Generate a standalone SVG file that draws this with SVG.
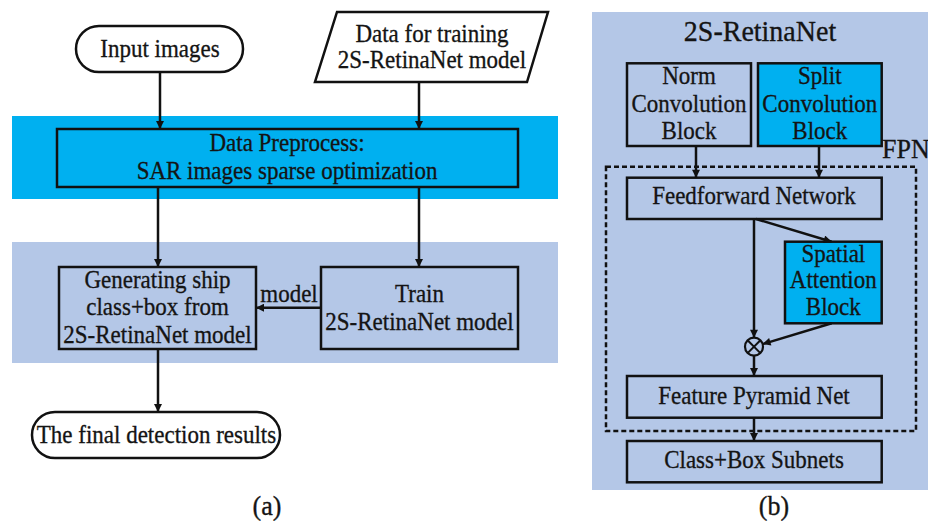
<svg xmlns="http://www.w3.org/2000/svg" width="928" height="524" viewBox="0 0 928 524">
<style>
  text { font-family: "Liberation Serif", "Times New Roman", Tinos, serif; font-size: 23px; fill: #141414; stroke: #141414; stroke-width: 0.3; text-anchor: middle; }
  .box { stroke: #111; stroke-width: 2.5; }
  .white { fill: #fff; }
  .cyan { fill: #00B0F0; }
  .light { fill: #B4C7E7; }
  .conn { stroke: #111; stroke-width: 2.5; fill: none; }
  .band-cyan { fill: #00B0F0; }
  .band-light { fill: #B4C7E7; }
</style>
<defs>
  <marker id="arrow" viewBox="0 0 10 10" refX="10" refY="5" markerWidth="9" markerHeight="8" markerUnits="userSpaceOnUse" orient="auto">
    <path d="M0,0 L10,5 L0,10 z" fill="#111"/>
  </marker>
</defs>

<!-- background bands -->
<rect class="band-cyan" x="12" y="116" width="546" height="83"/>
<rect class="band-light" x="12" y="242" width="546" height="121"/>
<rect class="band-light" x="592" y="12" width="336" height="478"/>

<!-- Panel (a) nodes -->
<g id="input-images">
  <rect class="box white" x="76" y="26" width="167" height="46" rx="23" ry="23"/>
  <text transform="translate(160,56.5) scale(1,1.09)">Input images</text>
</g>
<g id="training-data">
  <polygon class="box white" points="337,12 548,12 527,82 315,82"/>
  <text transform="translate(432,41.5) scale(1,1.09)">Data for training</text>
  <text transform="translate(432,68) scale(1,1.09)">2S-RetinaNet model</text>
</g>
<g id="preprocess">
  <rect class="box cyan" x="57" y="129" width="461" height="58"/>
  <text transform="translate(287,150.5) scale(1,1.09)">Data Preprocess:</text>
  <text transform="translate(287,179) scale(1,1.09)">SAR images sparse optimization</text>
</g>
<g id="generating">
  <rect class="box light" x="59" y="267" width="197" height="82"/>
  <text transform="translate(157.5,288.3) scale(1,1.09)">Generating ship</text>
  <text transform="translate(157.5,315) scale(1,1.09)">class+box from</text>
  <text transform="translate(157.5,342.5) scale(1,1.09)">2S-RetinaNet model</text>
</g>
<g id="train">
  <rect class="box light" x="321" y="267" width="197" height="82"/>
  <text transform="translate(419.5,301.7) scale(1,1.09)">Train</text>
  <text transform="translate(419.5,330) scale(1,1.09)">2S-RetinaNet model</text>
</g>
<g id="final-results">
  <rect class="box white" x="32" y="412" width="248" height="46" rx="23" ry="23"/>
  <text transform="translate(156.5,442.7) scale(1,1.09)">The final detection results</text>
</g>
<text transform="translate(267,515) scale(1,1.09)" style="font-size:26px">(a)</text>

<!-- Panel (b) nodes -->
<text transform="translate(760,40.7) scale(1,1.05)" style="font-size:28px">2S-RetinaNet</text>
<text transform="translate(882,158) scale(1,1.05)" style="font-size:26px;text-anchor:start">FPN</text>
<g id="fpn-region">
  <rect x="606" y="166.7" width="310" height="264.3" fill="none" stroke="#111" stroke-width="2.5" stroke-dasharray="5,3"/>
</g>
<g id="norm-conv">
  <rect class="box light" x="627" y="63.3" width="124" height="82.7"/>
  <text transform="translate(689,84) scale(1,1.09)">Norm</text>
  <text transform="translate(689,111.7) scale(1,1.09)">Convolution</text>
  <text transform="translate(689,139.3) scale(1,1.09)">Block</text>
</g>
<g id="split-conv">
  <rect class="box cyan" x="758" y="63.3" width="123.7" height="82.7"/>
  <text transform="translate(819.8,84) scale(1,1.09)">Split</text>
  <text transform="translate(819.8,111.7) scale(1,1.09)">Convolution</text>
  <text transform="translate(819.8,139.3) scale(1,1.09)">Block</text>
</g>
<g id="feedforward">
  <rect class="box light" x="627" y="177.7" width="254.7" height="41.3"/>
  <text transform="translate(754,204) scale(1,1.09)">Feedforward Network</text>
</g>
<g id="spatial-attention">
  <rect class="box cyan" x="785" y="241.7" width="96.7" height="81.6"/>
  <text transform="translate(833.3,261.7) scale(1,1.09)">Spatial</text>
  <text transform="translate(833.3,288.3) scale(1,1.09)">Attention</text>
  <text transform="translate(833.3,315) scale(1,1.09)">Block</text>
</g>
<g id="multiply">
  <circle cx="754" cy="346.7" r="9" fill="none" stroke="#111" stroke-width="2.2"/>
  <path d="M747.6,340.3 L760.4,353.1 M760.4,340.3 L747.6,353.1" stroke="#111" stroke-width="2"/>
</g>
<g id="feature-pyramid">
  <rect class="box light" x="627" y="376" width="254.7" height="41.7"/>
  <text transform="translate(754,404) scale(1,1.09)">Feature Pyramid Net</text>
</g>
<g id="class-box">
  <rect class="box light" x="627" y="441" width="254.7" height="41.3"/>
  <text transform="translate(754,468.3) scale(1,1.09)">Class+Box Subnets</text>
</g>
<text transform="translate(774,515) scale(1,1.09)" style="font-size:26px">(b)</text>

<!-- connectors -->
<g id="connectors">
  <line class="conn" x1="160" y1="72" x2="160" y2="129" marker-end="url(#arrow)"/>
  <line class="conn" x1="419" y1="82" x2="419" y2="129" marker-end="url(#arrow)"/>
  <line class="conn" x1="158" y1="187" x2="158" y2="267" marker-end="url(#arrow)"/>
  <line class="conn" x1="419" y1="187" x2="419" y2="267" marker-end="url(#arrow)"/>
  <line class="conn" x1="321" y1="307.7" x2="256" y2="307.7" marker-end="url(#arrow)"/>
  <text transform="translate(289,301.7) scale(1,1.09)">model</text>
  <line class="conn" x1="158" y1="349" x2="158" y2="412" marker-end="url(#arrow)"/>

  <line class="conn" x1="696" y1="146" x2="696" y2="177.7" marker-end="url(#arrow)"/>
  <line class="conn" x1="819" y1="146" x2="819" y2="177.7" marker-end="url(#arrow)"/>
  <line class="conn" x1="754" y1="219" x2="754" y2="337.7" marker-end="url(#arrow)"/>
  <line class="conn" x1="756" y1="219" x2="831.7" y2="241.7" marker-end="url(#arrow)"/>
  <line class="conn" x1="831.7" y1="323.3" x2="762.6" y2="344.1" marker-end="url(#arrow)"/>
  <line class="conn" x1="754" y1="355.7" x2="754" y2="376" marker-end="url(#arrow)"/>
  <line class="conn" x1="754" y1="417.7" x2="754" y2="441" marker-end="url(#arrow)"/>
</g>
</svg>
